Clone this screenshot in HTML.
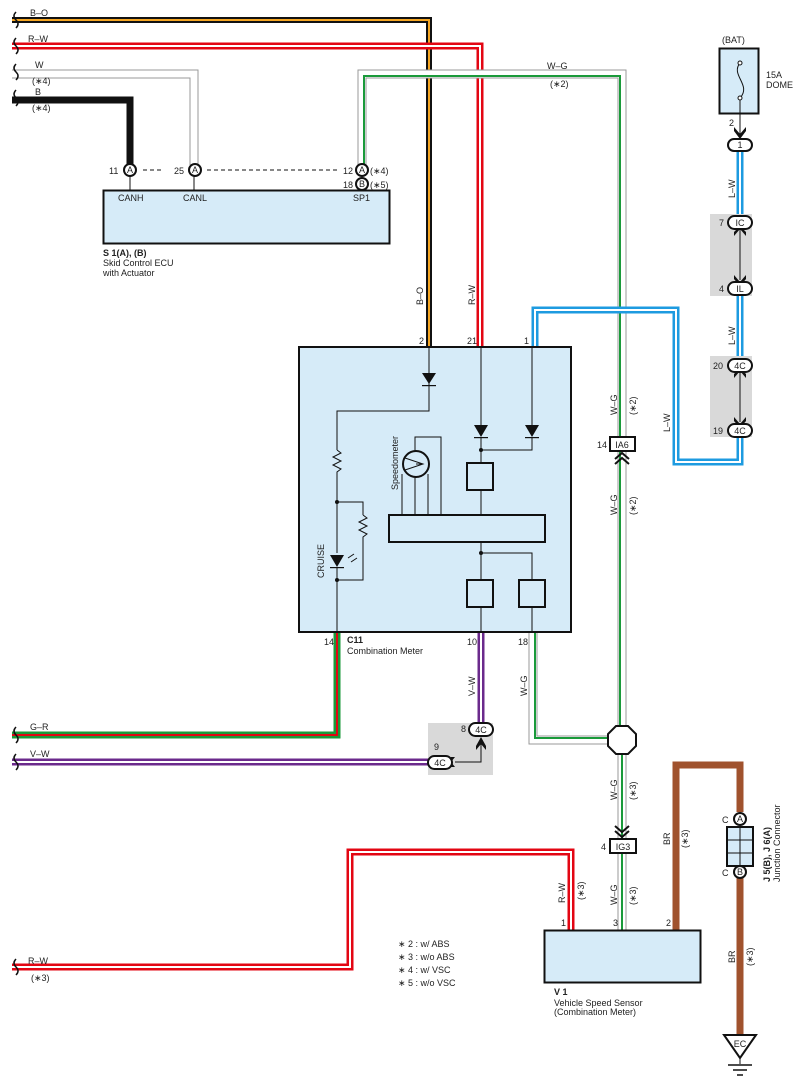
<!DOCTYPE html>
<html><head><meta charset="utf-8"><style>
html,body{margin:0;padding:0;background:#fff}
svg{display:block}
text{font-family:"Liberation Sans",sans-serif;font-size:9px;fill:#222}
</style></head><body>
<svg width="803" height="1088" viewBox="0 0 803 1088" xmlns="http://www.w3.org/2000/svg">
<g fill="none" stroke-linejoin="miter">
<polyline points="12,20 429,20 429,347" stroke="#111" stroke-width="6"/>
<polyline points="12,20 429,20 429,347" stroke="#f5a623" stroke-width="2"/>
<polyline points="12,46 480,46 480,347" stroke="#e30613" stroke-width="7"/>
<polyline points="12,46 480,46 480,347" stroke="#fff" stroke-width="2"/>
<polyline points="12,74 194,74 194,165" stroke="#999" stroke-width="9"/>
<polyline points="12,74 194,74 194,165" stroke="#fff" stroke-width="7"/>
<polyline points="12,100 130,100 130,165" stroke="#111" stroke-width="7"/>
<polyline points="362,165 362,74 622,74 622,444" stroke="#999" stroke-width="9"/>
<polyline points="362,165 362,74 622,74 622,444" stroke="#fff" stroke-width="7"/>
<polyline points="364,165 364,76 620,76 620,444" stroke="#1a9a3a" stroke-width="2"/>
<polyline points="622,452 622,726" stroke="#999" stroke-width="9"/>
<polyline points="622,452 622,726" stroke="#fff" stroke-width="7"/>
<polyline points="620,452 620,726" stroke="#1a9a3a" stroke-width="2"/>
<polyline points="533,632 533,740 608,740" stroke="#999" stroke-width="9"/>
<polyline points="533,632 533,740 608,740" stroke="#fff" stroke-width="7"/>
<polyline points="535,632 535,738 608,738" stroke="#1a9a3a" stroke-width="2"/>
<polyline points="622,754 622,838" stroke="#999" stroke-width="9"/>
<polyline points="622,754 622,838" stroke="#fff" stroke-width="7"/>
<polyline points="622,754 622,838" stroke="#1a9a3a" stroke-width="2"/>
<polyline points="622,853 622,930" stroke="#999" stroke-width="9"/>
<polyline points="622,853 622,930" stroke="#fff" stroke-width="7"/>
<polyline points="622,853 622,930" stroke="#1a9a3a" stroke-width="2"/>
<polyline points="535,347 535,310 676,310 676,462 740,462 740,436" stroke="#1e9be0" stroke-width="7"/>
<polyline points="535,347 535,310 676,310 676,462 740,462 740,436" stroke="#fff" stroke-width="2"/>
<polyline points="740,151 740,216" stroke="#1e9be0" stroke-width="7"/>
<polyline points="740,151 740,216" stroke="#fff" stroke-width="2"/>
<polyline points="740,294 740,359" stroke="#1e9be0" stroke-width="7"/>
<polyline points="740,294 740,359" stroke="#fff" stroke-width="2"/>
<polyline points="337,632 337,735 12,735" stroke="#1a9a3a" stroke-width="7"/>
<polyline points="337,632 337,735 12,735" stroke="#e30613" stroke-width="2"/>
<polyline points="481,632 481,723" stroke="#6b2a8c" stroke-width="7"/>
<polyline points="481,632 481,723" stroke="#fff" stroke-width="2"/>
<polyline points="428,762 12,762" stroke="#6b2a8c" stroke-width="7"/>
<polyline points="428,762 12,762" stroke="#fff" stroke-width="2"/>
<polyline points="12,967 350,967 350,852 571,852 571,930" stroke="#e30613" stroke-width="7"/>
<polyline points="12,967 350,967 350,852 571,852 571,930" stroke="#fff" stroke-width="2"/>
<polyline points="676,930 676,765 740,765 740,812" stroke="#a0522d" stroke-width="7"/>
<polyline points="740,878 740,1036" stroke="#a0522d" stroke-width="7"/>
</g>

<g fill="none" stroke="#111" stroke-width="1.5">
<path d="M16,12 q-4,4 0,8 q4,4 0,8"/>
<path d="M16,38 q-4,4 0,8 q4,4 0,8"/>
<path d="M16,64 q-4,4 0,8 q4,4 0,8"/>
<path d="M16,90 q-4,4 0,8 q4,4 0,8"/>
<path d="M16,727 q-4,4 0,8 q4,4 0,8"/>
<path d="M16,754 q-4,4 0,8 q4,4 0,8"/>
<path d="M16,959 q-4,4 0,8 q4,4 0,8"/>
</g>

<rect x="103.5" y="190.5" width="286" height="53" fill="#d6ebf8" stroke="#111" stroke-width="2"/>
<g stroke="#111" stroke-width="1"><line x1="130" y1="176" x2="130" y2="190"/><line x1="194" y1="176" x2="194" y2="190"/></g>
<line x1="143" y1="170" x2="163" y2="170" stroke="#111" stroke-dasharray="4,3"/>
<line x1="207" y1="170" x2="338" y2="170" stroke="#111" stroke-dasharray="4,3"/>
<g fill="#fff" stroke="#111" stroke-width="2">
<circle cx="130" cy="170" r="6"/><circle cx="195" cy="170" r="6"/><circle cx="362" cy="170" r="6"/><circle cx="362" cy="184" r="6"/>
</g>
<g font-size="8" text-anchor="middle">
<text x="130" y="173">A</text><text x="195" y="173">A</text><text x="362" y="173">A</text><text x="362" y="187">B</text>
</g>
<text x="109" y="174">11</text><text x="174" y="174">25</text><text x="343" y="174">12</text><text x="343" y="188">18</text>
<text x="370" y="174">(∗4)</text><text x="370" y="188">(∗5)</text>
<text x="118" y="201">CANH</text><text x="183" y="201">CANL</text><text x="353" y="201">SP1</text>
<text x="103" y="256" font-weight="bold">S 1(A), (B)</text>
<text x="103" y="266">Skid Control ECU</text><text x="103" y="276">with Actuator</text>

<text x="30" y="16">B–O</text><text x="28" y="42">R–W</text><text x="35" y="68">W</text>
<text x="32" y="84">(∗4)</text><text x="35" y="95">B</text><text x="32" y="111">(∗4)</text>
<text x="547" y="69">W–G</text><text x="550" y="87">(∗2)</text>

<!-- Meter -->
<rect x="299" y="347" width="272" height="285" fill="#d6ebf8" stroke="#111" stroke-width="2"/>
<text x="419" y="344">2</text><text x="467" y="344">21</text><text x="524" y="344">1</text>
<text x="324" y="645">14</text><text x="467" y="645">10</text><text x="518" y="645">18</text>
<text x="347" y="643" font-weight="bold">C11</text><text x="347" y="654">Combination Meter</text>
<g fill="none" stroke="#111" stroke-width="1">
<polyline points="429,348 429,411 337,411 337,450"/>
<path d="M337,450 l4,3 l-8,4 l8,4 l-8,4 l8,4 l-4,3 V502"/>
<polyline points="337,502 337,553"/>
<polyline points="337,502 363,502 363,515"/>
<path d="M363,515 l4,3 l-8,4 l8,4 l-8,4 l8,4 l-4,3 V580 H337"/>
<polyline points="337,568 337,632"/>
<polyline points="481,348 481,425"/><polyline points="481,438 481,463"/>
<polyline points="532,348 532,425"/><polyline points="532,438 532,450 481,450"/>
<rect x="467" y="463" width="26" height="27" stroke-width="2"/>
<polyline points="481,490 481,515"/>
<rect x="389" y="515" width="156" height="27" stroke-width="2"/>
<polyline points="481,542 481,580"/><polyline points="481,553 532,553 532,580"/>
<rect x="467" y="580" width="26" height="27" stroke-width="2"/>
<rect x="519" y="580" width="26" height="27" stroke-width="2"/>
<polyline points="481,607 481,632"/><polyline points="532,607 532,632"/>
<circle cx="416" cy="464" r="13" stroke-width="2"/>
<path d="M405,458 L423,464 L405,470 M416,464 H423"/>
<polyline points="402,515 402,474"/><polyline points="415,515 415,477"/><polyline points="428,515 428,474"/>
<polyline points="441,515 441,437 415,437 415,451"/>
<path d="M348,558 l6,-4 M351,562 l6,-4"/>
</g>
<g fill="#111">
<path d="M422,373 H436 L429,384 Z"/><rect x="422" y="385" width="14" height="1.2"/>
<path d="M474,425 H488 L481,437 Z"/><rect x="474" y="437" width="14" height="1.2"/>
<path d="M525,425 H539 L532,437 Z"/><rect x="525" y="437" width="14" height="1.2"/>
<path d="M330,555 H344 L337,567 Z"/><rect x="330" y="567" width="14" height="1.2"/>
<circle cx="481" cy="450" r="2"/><circle cx="337" cy="502" r="2"/><circle cx="337" cy="580" r="2"/><circle cx="481" cy="553" r="2"/>
</g>

<g font-size="9">
<text transform="translate(423,305) rotate(-90)">B–O</text>
<text transform="translate(475,305) rotate(-90)">R–W</text>
<text transform="translate(617,415) rotate(-90)">W–G</text>
<text transform="translate(636,415) rotate(-90)">(∗2)</text>
<text transform="translate(617,515) rotate(-90)">W–G</text>
<text transform="translate(636,515) rotate(-90)">(∗2)</text>
<text transform="translate(670,432) rotate(-90)">L–W</text>
<text transform="translate(735,198) rotate(-90)">L–W</text>
<text transform="translate(735,345) rotate(-90)">L–W</text>
<text transform="translate(475,696) rotate(-90)">V–W</text>
<text transform="translate(527,696) rotate(-90)">W–G</text>
<text transform="translate(617,800) rotate(-90)">W–G</text>
<text transform="translate(636,800) rotate(-90)">(∗3)</text>
<text transform="translate(617,905) rotate(-90)">W–G</text>
<text transform="translate(636,905) rotate(-90)">(∗3)</text>
<text transform="translate(565,903) rotate(-90)">R–W</text>
<text transform="translate(584,900) rotate(-90)">(∗3)</text>
<text transform="translate(670,845) rotate(-90)">BR</text>
<text transform="translate(688,848) rotate(-90)">(∗3)</text>
<text transform="translate(735,963) rotate(-90)">BR</text>
<text transform="translate(753,966) rotate(-90)">(∗3)</text>
<text transform="translate(324,578) rotate(-90)">CRUISE</text>
<text transform="translate(398,490) rotate(-90)">Speedometer</text>
<text transform="translate(770,882) rotate(-90)" font-weight="bold">J 5(B), J 6(A)</text>
<text transform="translate(780,882) rotate(-90)">Junction Connector</text>
</g>

<text x="722" y="43">(BAT)</text>
<rect x="719.5" y="48.5" width="39" height="65" fill="#d6ebf8" stroke="#111" stroke-width="2"/>
<path d="M740,63 C730,75 752,85 740,98" fill="none" stroke="#111"/>
<circle cx="740" cy="63" r="2" fill="#fff" stroke="#111"/><circle cx="740" cy="98" r="2" fill="#fff" stroke="#111"/>
<line x1="740" y1="100" x2="740" y2="138" stroke="#111"/>
<text x="766" y="78">15A</text><text x="766" y="88">DOME</text>
<text x="729" y="126">2</text>
<path d="M734,127 L740,134 L746,127 L746,131 L740,139 L734,131 Z" fill="#111"/>

<rect x="710" y="214" width="42" height="82" fill="#d9d9d9"/>
<rect x="710" y="356" width="42" height="81" fill="#d9d9d9"/>
<rect x="428" y="723" width="65" height="52" fill="#d9d9d9"/>
<line x1="740" y1="230" x2="740" y2="280" stroke="#111"/>
<line x1="740" y1="372" x2="740" y2="422" stroke="#111"/>
<path d="M734,236 L740,229 L746,236 L746,232 L740,226 L734,232 Z" fill="#111"/>
<path d="M734,275 L740,282 L746,275 L746,279 L740,286 L734,279 Z" fill="#111"/>
<path d="M734,378 L740,371 L746,378 L746,374 L740,368 L734,374 Z" fill="#111"/>
<path d="M734,417 L740,424 L746,417 L746,421 L740,428 L734,421 Z" fill="#111"/>
<polyline points="455,762 481,762 481,740" fill="none" stroke="#111"/>
<path d="M476,746 L481,737 L486,746 L486,750 L481,744 L476,750 Z" fill="#111"/>
<path d="M451,757 L446,762 L451,767 L455,767 L451,762 L455,757 Z" fill="#111"/>

<g fill="#fff" stroke="#111" stroke-width="2">
<rect x="728" y="139" width="24" height="12" rx="6"/>
<rect x="728" y="216" width="24" height="13" rx="6.5"/>
<rect x="728" y="282" width="24" height="13" rx="6.5"/>
<rect x="728" y="359" width="24" height="13" rx="6.5"/>
<rect x="728" y="424" width="24" height="13" rx="6.5"/>
<rect x="469" y="723" width="24" height="13" rx="6.5"/>
<rect x="428" y="756" width="24" height="13" rx="6.5"/>
</g>
<g font-size="9" text-anchor="middle">
<text x="740" y="148">1</text><text x="740" y="226">IC</text><text x="740" y="292">IL</text>
<text x="740" y="369">4C</text><text x="740" y="434">4C</text>
<text x="481" y="733">4C</text><text x="440" y="766">4C</text>
</g>
<text x="719" y="226">7</text><text x="719" y="292">4</text><text x="713" y="369">20</text><text x="713" y="434">19</text>
<text x="461" y="732">8</text><text x="434" y="750">9</text>

<rect x="610" y="437" width="25" height="14" fill="#fff" stroke="#111" stroke-width="2"/>
<text x="622" y="448" text-anchor="middle">IA6</text><text x="597" y="448">14</text>
<path d="M615,459 L622,453 L629,459 M615,464 L622,458 L629,464" fill="none" stroke="#111" stroke-width="2"/>
<path d="M615,826 L622,832 L629,826 M615,831 L622,837 L629,831" fill="none" stroke="#111" stroke-width="2"/>
<rect x="610" y="839" width="26" height="14" fill="#fff" stroke="#111" stroke-width="2"/>
<text x="623" y="850" text-anchor="middle">IG3</text><text x="601" y="850">4</text>

<polygon points="616,726 628,726 636,734 636,746 628,754 616,754 608,746 608,734" fill="#fff" stroke="#111" stroke-width="2"/>

<rect x="727" y="827" width="26" height="39" fill="#d6ebf8" stroke="#111" stroke-width="2"/>
<g stroke="#111" stroke-width="1"><line x1="740" y1="827" x2="740" y2="866"/><line x1="727" y1="840" x2="753" y2="840"/><line x1="727" y1="853" x2="753" y2="853"/></g>
<circle cx="740" cy="819" r="6" fill="#fff" stroke="#111" stroke-width="2"/>
<circle cx="740" cy="872" r="6" fill="#fff" stroke="#111" stroke-width="2"/>
<text x="740" y="822" text-anchor="middle" font-size="8">A</text><text x="740" y="875" text-anchor="middle" font-size="8">B</text>
<text x="722" y="823">C</text><text x="722" y="876">C</text>

<rect x="544.5" y="930.5" width="156" height="52" fill="#d6ebf8" stroke="#111" stroke-width="2"/>
<text x="561" y="926">1</text><text x="613" y="926">3</text><text x="666" y="926">2</text>
<text x="554" y="995" font-weight="bold">V 1</text>
<text x="554" y="1006">Vehicle Speed Sensor</text><text x="554" y="1015">(Combination Meter)</text>

<text x="398" y="947">∗ 2 : w/ ABS</text><text x="398" y="960">∗ 3 : w/o ABS</text>
<text x="398" y="973">∗ 4 : w/ VSC</text><text x="398" y="986">∗ 5 : w/o VSC</text>

<text x="30" y="730">G–R</text><text x="30" y="757">V–W</text>
<text x="28" y="964">R–W</text><text x="31" y="981">(∗3)</text>

<polygon points="724,1035 756,1035 740,1058" fill="#fff" stroke="#111" stroke-width="2"/>
<text x="740" y="1047" text-anchor="middle">EC</text>
<line x1="740" y1="1058" x2="740" y2="1064" stroke="#111"/>
<line x1="728" y1="1065" x2="752" y2="1065" stroke="#111" stroke-width="1.5"/>
<line x1="733" y1="1070" x2="747" y2="1070" stroke="#111" stroke-width="1.5"/>
<line x1="737" y1="1075" x2="743" y2="1075" stroke="#111" stroke-width="1.5"/>
</svg>
</body></html>
